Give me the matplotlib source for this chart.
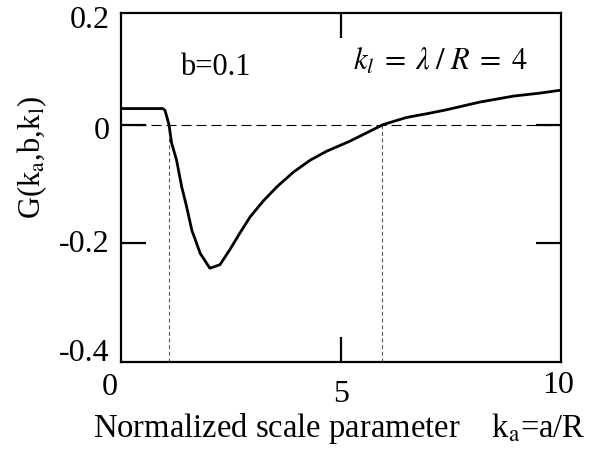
import matplotlib.pyplot as plt
import matplotlib.transforms as mtransforms

plt.rcParams['font.family'] = ['Liberation Serif', 'DejaVu Serif']
plt.rcParams['mathtext.fontset'] = 'stix'

# Data
ka = [0.0, 0.95, 1.0, 1.09, 1.15, 1.26, 1.38, 1.49, 1.61, 1.8, 2.02, 2.25,
      2.48, 2.7, 2.93, 3.23, 3.54, 3.92, 4.3, 4.67, 5.2, 5.58, 5.96, 6.49,
      7.0, 7.4, 8.16, 8.92, 9.52, 9.9, 10.0]
G = [0.027, 0.027, 0.024, 0.0, -0.031, -0.059, -0.105, -0.138, -0.178, -0.217,
     -0.242, -0.236, -0.21, -0.183, -0.156, -0.129, -0.105, -0.08, -0.06,
     -0.045, -0.028, -0.014, 0.0, 0.012, 0.019, 0.025, 0.038, 0.048, 0.053,
     0.057, 0.058]
zero_crossings = [1.09, 5.93]

x_ticks = [0, 5, 10]
x_tick_labels = ['0', '5', '10']
y_ticks = [0.188, 0, -0.2, -0.4]
y_tick_labels = ['0.2', '0', '-0.2', '-0.4']

fig = plt.figure(figsize=(6.1, 4.5), dpi=100)
ax = fig.add_axes([121 / 610, 88 / 450, 440 / 610, 349 / 450])

# reference lines
ax.axhline(0, color='black', lw=0.8, ls=(0, (9, 4.5)), zorder=1)
for xc in zero_crossings:
    ax.plot([xc, xc], [-0.4, 0], color='#555555', lw=0.8, ls=(0, (3.5, 2.5)), zorder=1)

ax.plot(ka, G, color='black', lw=2.0, zorder=3)

ax.set_xlim(0, 10)
ax.set_ylim(-0.4, 0.188)

for s in ax.spines.values():
    s.set_linewidth(1.6)

ax.set_yticks([0, -0.2])
ax.set_yticklabels(['', ''])
ax.tick_params(axis='y', direction='in', length=18, width=1.6, right=True)
ax.set_xticks([5])
ax.set_xticklabels([''])
ax.tick_params(axis='x', direction='in', length=18, width=1.6, top=True)

px = 72 / 100  # one pixel in points

# y tick labels
ytrans = mtransforms.blended_transform_factory(ax.transAxes, ax.transData)
y_nudge = [-7.5, -6.5, -1, 8.5]  # pixels
for yv, lab, dy in zip(y_ticks, y_tick_labels, y_nudge):
    t = ytrans + mtransforms.ScaledTranslation(-11 * px / 72, dy * px / 72, fig.dpi_scale_trans)
    ax.text(0, yv, lab, transform=t, ha='right', va='center', fontsize=23)

# x tick labels ("5" sits lower than the others)
xtrans = mtransforms.blended_transform_factory(ax.transData, ax.transAxes)
x_dx = [-11, 0, -3]
x_dy = [-25.5, -32.5, -23.5]
for xv, lab, dx, dy in zip(x_ticks, x_tick_labels, x_dx, x_dy):
    t = xtrans + mtransforms.ScaledTranslation(dx * px / 72, dy * px / 72, fig.dpi_scale_trans)
    ax.text(xv, 0, lab, transform=t, ha='center', va='center', fontsize=23)

fig.text(32 / 610, 1 - 157 / 450, r'G(k$_\mathrm{a}$,b,k$_\mathrm{l}$)', fontsize=22,
         rotation=90, ha='center', va='center')
fig.text(0.556, 0.029, r'Normalized scale parameter    k$_\mathrm{a}$=a/R',
         ha='center', va='baseline', fontsize=23.5)

ax.text(1.34, 0.083, 'b=0.1', fontsize=22, va='baseline')
ax.text(5.27, 0.092, r'$k_l\;=\;\lambda\;/\;R\;=\;4$', fontsize=22, va='baseline')

fig.savefig('out.png', dpi=100)
